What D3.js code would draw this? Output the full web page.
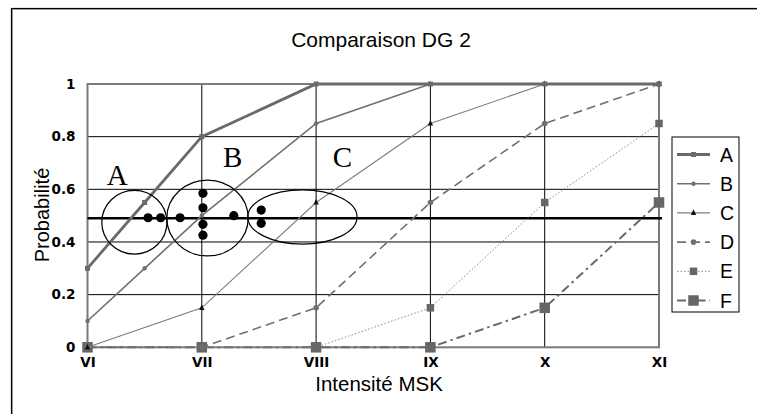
<!DOCTYPE html>
<html><head><meta charset="utf-8">
<script src="https://cdn.jsdelivr.net/npm/d3@7"></script>
<style>
html,body{margin:0;padding:0;background:#fff;}
svg{display:block;font-family:Arial,"Liberation Sans",sans-serif;}
</style></head>
<body><svg id="c" width="757" height="414"></svg>
<script>
// ---- data ----
const xTicks = [6, 7, 8, 9, 10, 11];
const xTickLabels = ["VI", "VII", "VIII", "IX", "X", "XI"];
const yTicks = [0, 0.2, 0.4, 0.6, 0.8, 1];
const xAB = [6, 6.5, 7, 8, 9, 10, 11];
const seriesA = [0.3, 0.55, 0.8, 1, 1, 1, 1];
const seriesB = [0.1, 0.3, 0.5, 0.85, 1, 1, 1];
const seriesC = [0, 0.15, 0.55, 0.85, 1, 1];
const seriesD = [0, 0, 0.15, 0.55, 0.85, 1];
const seriesE = [0, 0, 0, 0.15, 0.55, 0.85];
const seriesF = [0, 0, 0, 0, 0.15, 0.55];
const seriesNames = ["A", "B", "C", "D", "E", "F"];
const refLevel = 0.49;
// annotation dots (intensity, probability)
const dotX = [6.53, 6.64, 6.81, 7.01, 7.01, 7.01, 7.01, 7.28, 7.52, 7.52];
const dotY = [0.492, 0.492, 0.492, 0.585, 0.53, 0.467, 0.426, 0.50, 0.521, 0.471];
// annotation ellipses: centre x, centre y, labels
const groupNames = ["A", "B", "C"];
const groupCx = [6.41, 7.05, 7.88];
const groupCy = [0.475, 0.491, 0.495];
const groupRx = [0.285, 0.356, 0.478];
const groupRy = [0.121, 0.144, 0.103];
const groupLabelX = [6.26, 7.27, 8.23];
const groupLabelY = [0.616, 0.686, 0.685];

// ---- layout ----
const svg = d3.select("#c");
const x = d3.scaleLinear().domain([6, 11]).range([87.5, 659]);
const y = d3.scaleLinear().domain([0, 1]).range([347.3, 84]);
const tickFont = "'DejaVu Sans', Verdana, sans-serif";

// outer border
svg.append("rect").attr("x", 11.5).attr("y", 8.5).attr("width", 800).attr("height", 500)
  .attr("fill", "none").attr("stroke", "#000").attr("stroke-width", 1.2);
svg.append("rect").attr("x", 12.5).attr("y", 9.5).attr("width", 800).attr("height", 500)
  .attr("fill", "none").attr("stroke", "#999").attr("stroke-width", 1);

// title
svg.append("text").attr("x", 381).attr("y", 47).attr("text-anchor", "middle")
  .attr("font-size", 21).text("Comparaison DG 2");

// gridlines
const g = svg.append("g");
g.selectAll(".hg").data(yTicks.filter(v => v > 0 && v < 1)).join("line")
  .attr("x1", x(6)).attr("x2", x(11)).attr("y1", d => y(d)).attr("y2", d => y(d))
  .attr("stroke", "#000").attr("stroke-width", 1);
g.selectAll(".vg").data(xTicks.filter(v => v > 6 && v < 11)).join("line")
  .attr("x1", d => x(d)).attr("x2", d => x(d)).attr("y1", y(0)).attr("y2", y(1))
  .attr("stroke", "#000").attr("stroke-width", 1);
// plot border
g.append("rect").attr("x", x(6)).attr("y", y(1)).attr("width", x(11) - x(6)).attr("height", y(0) - y(1))
  .attr("fill", "none").attr("stroke", "#7a7a7a").attr("stroke-width", 2);

// axes
const yAxis = d3.axisLeft(y).tickValues(yTicks).tickSize(0).tickPadding(12)
  .tickFormat(d => d === 0 ? "0" : (d === 1 ? "1" : d3.format(".1f")(d)));
const ya = svg.append("g").attr("transform", `translate(${x(6)},0)`).call(yAxis);
ya.select(".domain").remove();
ya.selectAll("text").style("font-family", tickFont).style("font-size", "13.5px")
  .style("font-weight", "bold").attr("fill", "#000");

const xAxis = d3.axisBottom(x).tickValues(xTicks).tickSize(0).tickPadding(10)
  .tickFormat((d, i) => xTickLabels[i]);
const xa = svg.append("g").attr("transform", `translate(0,${y(0)})`).call(xAxis);
xa.select(".domain").remove();
xa.selectAll("text").style("font-family", tickFont).style("font-size", "13.5px")
  .style("font-weight", "bold").attr("fill", "#000");

// axis titles
svg.append("text").attr("transform", `translate(49,215) rotate(-90)`).attr("text-anchor", "middle")
  .attr("font-size", 20).text("Probabilité");
svg.append("text").attr("x", 379).attr("y", 391).attr("text-anchor", "middle")
  .attr("font-size", 20.5).text("Intensité MSK");

// reference line
svg.append("line").attr("x1", x(6)).attr("x2", x(11) + 3).attr("y1", y(refLevel)).attr("y2", y(refLevel))
  .attr("stroke", "#000").attr("stroke-width", 2.4);

// series definitions
const styles = [
  { name: "A", xs: xAB, vals: seriesA, w: 2.8, color: "#6a6a6a", dash: null, marker: "square", ms: 5 },
  { name: "B", xs: xAB, vals: seriesB, w: 1.6, color: "#707070", dash: null, marker: "circle", ms: 2.2 },
  { name: "C", xs: xTicks, vals: seriesC, w: 1.1, color: "#7c7c7c", dash: null, marker: "triangle", ms: 6 },
  { name: "D", xs: xTicks, vals: seriesD, w: 1.6, color: "#707070", dash: "9,5", marker: "circle", ms: 2.8 },
  { name: "E", xs: xTicks, vals: seriesE, w: 1, color: "#8a8a8a", dash: "1.5,2", marker: "square", ms: 7.5 },
  { name: "F", xs: xTicks, vals: seriesF, w: 2, color: "#6a6a6a", dash: "9,4,2.5,4", marker: "square", ms: 10.5 }
];

function drawMarker(sel, s, cx, cy) {
  if (s.marker === "square") {
    sel.append("rect").attr("x", cx - s.ms / 2).attr("y", cy - s.ms / 2)
      .attr("width", s.ms).attr("height", s.ms).attr("fill", s.name === "A" ? "#6a6a6a" : "#666");
  } else if (s.marker === "circle") {
    sel.append("circle").attr("cx", cx).attr("cy", cy).attr("r", s.ms).attr("fill", "#6f6f6f");
  } else {
    const h = s.ms;
    sel.append("path").attr("d", `M${cx},${cy - h * 0.6}L${cx + h * 0.45},${cy + h * 0.35}L${cx - h * 0.45},${cy + h * 0.35}Z`)
      .attr("fill", "#111");
  }
}

const line = d3.line().x(d => x(d[0])).y(d => y(d[1]));
const plotG = svg.append("g");
styles.slice().reverse().forEach(s => {
  const pts = s.xs.map((xv, i) => [xv, s.vals[i]]);
  plotG.append("path").datum(pts).attr("d", line).attr("fill", "none")
    .attr("stroke", s.color).attr("stroke-width", s.w)
    .attr("stroke-dasharray", s.dash);
  const mg = plotG.append("g");
  pts.forEach(p => drawMarker(mg, s, x(p[0]), y(p[1])));
});

// annotations
const ann = svg.append("g");
groupNames.forEach((n, i) => {
  ann.append("ellipse").attr("cx", x(groupCx[i])).attr("cy", y(groupCy[i]))
    .attr("rx", x(groupCx[i] + groupRx[i]) - x(groupCx[i]))
    .attr("ry", y(0) - y(groupRy[i]))
    .attr("fill", "none").attr("stroke", "#000").attr("stroke-width", 1.2);
  ann.append("text").attr("x", x(groupLabelX[i])).attr("y", y(groupLabelY[i]))
    .attr("text-anchor", "middle").attr("font-family", "'Liberation Serif','Times New Roman',serif")
    .attr("font-size", 29).text(n);
});
ann.selectAll(".dot").data(dotX.map((v, i) => [v, dotY[i]])).join("circle")
  .attr("cx", d => x(d[0])).attr("cy", d => y(d[1])).attr("r", 4.6).attr("fill", "#000");

// legend
const lg = svg.append("g");
lg.append("rect").attr("x", 672).attr("y", 137).attr("width", 67).attr("height", 175)
  .attr("fill", "#fff").attr("stroke", "#000").attr("stroke-width", 1);
styles.forEach((s, i) => {
  const cy = 154.5 + i * 29.2;
  lg.append("line").attr("x1", 677).attr("x2", 710).attr("y1", cy).attr("y2", cy)
    .attr("stroke", s.color).attr("stroke-width", s.w).attr("stroke-dasharray", s.dash);
  drawMarker(lg, s, 693.5, cy);
  lg.append("text").attr("x", 720).attr("y", cy + 7).attr("font-size", 19.5).text(seriesNames[i]);
});
</script>
</body></html>
